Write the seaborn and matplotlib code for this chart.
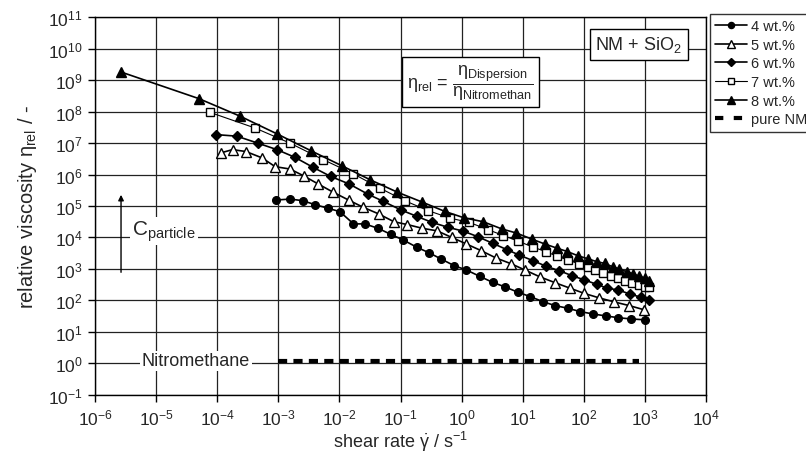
import numpy as np
import pandas as pd
import matplotlib
matplotlib.use("Agg")
import matplotlib.pyplot as plt
from matplotlib.lines import Line2D
import seaborn as sns

# ---------------- data ----------------
x_4 = [9.3e-4, 1.55e-3, 2.5e-3, 4.0e-3, 6.5e-3, 1.02e-2, 1.7e-2, 2.6e-2, 4.3e-2, 6.9e-2,
       0.111, 0.184, 0.295, 0.468, 0.76, 1.2, 2.0, 3.24, 5.1, 8.3,
       13.2, 21.4, 33.9, 55, 87, 140, 229, 367, 589, 1000]
y_4 = [1.55e5, 1.66e5, 1.48e5, 1.1e5, 8.5e4, 6.6e4, 2.7e4, 2.7e4, 1.95e4, 1.26e4,
       8.3e3, 4.9e3, 3.24e3, 2.04e3, 1.26e3, 923, 575, 372, 269, 182,
       132, 91, 68, 56, 44, 37, 32, 28, 25.7, 24]

x_5 = [1.15e-4, 1.78e-4, 2.95e-4, 5.4e-4, 8.9e-4, 1.55e-3, 2.6e-3, 4.5e-3, 7.9e-3, 1.41e-2,
       2.45e-2, 4.4e-2, 7.8e-2, 0.129, 0.229, 0.398, 0.69, 1.2, 2.09, 3.63,
       6.5, 11, 19, 34, 59, 102, 178, 316, 556, 977]
y_5 = [4.9e6, 6.2e6, 5.4e6, 3.4e6, 1.78e6, 1.5e6, 9.1e5, 5.0e5, 2.75e5, 1.55e5,
       9.1e4, 5.6e4, 3.16e4, 2.57e4, 1.95e4, 1.62e4, 1.0e4, 6.2e3, 3.8e3, 2.24e3,
       1.45e3, 912, 562, 363, 245, 166, 120, 89, 68, 50]

x_6 = [9.7e-5, 2.1e-4, 4.6e-4, 9.5e-4, 1.86e-3, 3.7e-3, 7.2e-3, 1.45e-2, 2.9e-2, 5.2e-2,
       0.1, 0.184, 0.33, 0.60, 1.07, 1.86, 3.24, 5.5, 8.8, 14.8,
       24.5, 40, 65, 102, 162, 240, 363, 575, 851, 1175]
y_6 = [1.86e7, 1.66e7, 1.0e7, 6.2e6, 3.55e6, 1.7e6, 8.7e5, 5.0e5, 2.4e5, 1.41e5,
       7.6e4, 4.7e4, 3.0e4, 2.1e4, 1.58e4, 1.05e4, 6.5e3, 4.1e3, 2.75e3, 1.82e3,
       1.2e3, 871, 603, 447, 324, 245, 214, 158, 126, 105]

x_7 = [7.6e-5, 4.2e-4, 1.55e-3, 5.4e-3, 1.7e-2, 4.6e-2, 0.117, 0.285, 0.65, 1.34,
       2.7, 4.8, 8.5, 14.8, 24, 37, 56, 83, 115, 155,
       209, 279, 367, 479, 617, 813, 1000, 1175]
y_7 = [9.5e7, 3.0e7, 1.0e7, 3.0e6, 1.05e6, 3.7e5, 1.48e5, 7.1e4, 4.1e4, 3.0e4,
       1.78e4, 1.15e4, 7.6e3, 4.9e3, 3.55e3, 2.5e3, 1.9e3, 1.45e3, 1.12e3, 944,
       741, 603, 513, 417, 355, 309, 269, 257]

x_8 = [2.67e-6, 5.0e-5, 2.36e-4, 9.6e-4, 3.4e-3, 1.1e-2, 3.2e-2, 8.9e-2, 0.229, 0.525,
       1.1, 2.26, 4.57, 7.9, 14, 23, 36, 54, 81, 117,
       162, 219, 295, 380, 501, 646, 813, 1000, 1175]
y_8 = [1.82e9, 2.6e8, 7.2e7, 1.95e7, 5.75e6, 1.9e6, 6.8e5, 2.75e5, 1.32e5, 6.8e4,
       4.2e4, 3.16e4, 1.86e4, 1.38e4, 8.9e3, 6.2e3, 4.6e3, 3.55e3, 2.6e3, 2.1e3,
       1.7e3, 1.5e3, 1.17e3, 1.0e3, 813, 692, 575, 513, 427]

x_nm = [1.0e-3, 8.0e2]
y_nm = [1.2, 1.2]

series_labels = ["4 wt.%", "5 wt.%", "6 wt.%", "7 wt.%", "8 wt.%", "pure NM"]

# ---------------- style ----------------
sns.set_style("ticks")
plt.rcParams["font.family"] = ["Liberation Sans", "DejaVu Sans"]
plt.rcParams["mathtext.fontset"] = "custom"
plt.rcParams["mathtext.rm"] = "Liberation Sans"
plt.rcParams["mathtext.it"] = "Liberation Sans"
plt.rcParams["mathtext.bf"] = "Liberation Sans:bold"
plt.rcParams["axes.unicode_minus"] = False

fig = plt.figure(figsize=(8.06, 4.56), dpi=100)
ax = fig.add_axes([95 / 806, 1 - 395.7 / 456, (706 - 95) / 806, (395.7 - 18.3) / 456])

styles = [
    (x_4, y_4, "o", "black", "black", 5.5, 1.2),
    (x_5, y_5, "^", "white", "black", 6.5, 1.2),
    (x_6, y_6, "D", "black", "black", 5.0, 1.2),
    (x_7, y_7, "s", "white", "black", 6.0, 0.8),
    (x_8, y_8, "^", "black", "black", 6.5, 1.2),
]
handles = []
for (xs, ys, m, fc, ec, ms, lw), lab in zip(styles, series_labels[:5]):
    df = pd.DataFrame({"x": xs, "y": ys})
    sns.lineplot(data=df, x="x", y="y", ax=ax, color="black", lw=lw,
                 marker=m, markersize=ms, markerfacecolor=fc,
                 markeredgecolor=ec, markeredgewidth=1.0,
                 estimator=None, sort=False, legend=False, zorder=3)
    handles.append(Line2D([], [], color="black", lw=lw, marker=m,
                          markersize=ms * 0.8, markerfacecolor=fc,
                          markeredgecolor=ec, markeredgewidth=1.0))

df_nm = pd.DataFrame({"x": x_nm, "y": y_nm})
sns.lineplot(data=df_nm, x="x", y="y", ax=ax, color="black", lw=3,
             estimator=None, legend=False, zorder=3)
ax.lines[-1].set_dashes([2.2, 1.5])
handles.append(Line2D([], [], color="black", lw=3, dashes=[2.0, 2.5]))

ax.set_xscale("log")
ax.set_yscale("log")
ax.set_xlim(1e-6, 1e4)
ax.set_ylim(1e-1, 1e11)
ax.set_xticks([10.0 ** k for k in range(-6, 5)])
ax.set_yticks([10.0 ** k for k in range(-1, 12)])
ax.minorticks_off()
ax.grid(True, which="major", color="#222222", lw=0.9)
ax.set_axisbelow(True)
for s in ax.spines.values():
    s.set_color("black")
    s.set_linewidth(1.0)
ax.tick_params(axis="both", which="major", labelsize=12.5, length=5,
               width=1.0, color="black", direction="out", pad=4)

ax.set_xlabel(r"shear rate $\dot{\gamma}$ / s$^{-1}$", fontsize=13, labelpad=1)
ax.set_ylabel(r"relative viscosity $\eta_{\rm rel}$ / -", fontsize=14.5, labelpad=6)

# annotations
ax.text(0.614, 0.829,
        r"$\eta_{\rm rel}$ = $\dfrac{\eta_{\rm Dispersion}}{\eta_{\rm Nitromethan}}$",
        transform=ax.transAxes, ha="center", va="center", fontsize=13,
        bbox=dict(boxstyle="square,pad=0.3", fc="white", ec="black", lw=1.0),
        zorder=5)
ax.text(0.890, 0.928, r"NM + SiO$_2$", transform=ax.transAxes,
        ha="center", va="center", fontsize=13,
        bbox=dict(boxstyle="square,pad=0.3", fc="white", ec="black", lw=1.0),
        zorder=5)
ax.text(0.165, 0.0893, "Nitromethane", transform=ax.transAxes,
        ha="center", va="center", fontsize=13,
        bbox=dict(boxstyle="square,pad=0.1", fc="white", ec="none"), zorder=5)
ax.text(0.0606, 0.434, r"C$_{\rm particle}$", transform=ax.transAxes,
        ha="left", va="center", fontsize=15,
        bbox=dict(boxstyle="square,pad=0.1", fc="white", ec="none"), zorder=5)
ax.annotate("", xy=(0.0426, 0.537), xytext=(0.0426, 0.317),
            xycoords="axes fraction", textcoords="axes fraction",
            arrowprops=dict(arrowstyle="-|>", color="black", lw=1.0,
                            mutation_scale=8), zorder=5)

leg = fig.legend(handles, series_labels, loc="upper left",
                 bbox_to_anchor=(710 / 806, 1 - 15 / 456), fontsize=10.5,
                 frameon=True, fancybox=False, edgecolor="black",
                 handlelength=2.2, handletextpad=0.25, labelspacing=0.32,
                 borderpad=0.35, borderaxespad=0.0)
leg.get_frame().set_linewidth(1.0)

fig.savefig("out.png", dpi=100)
